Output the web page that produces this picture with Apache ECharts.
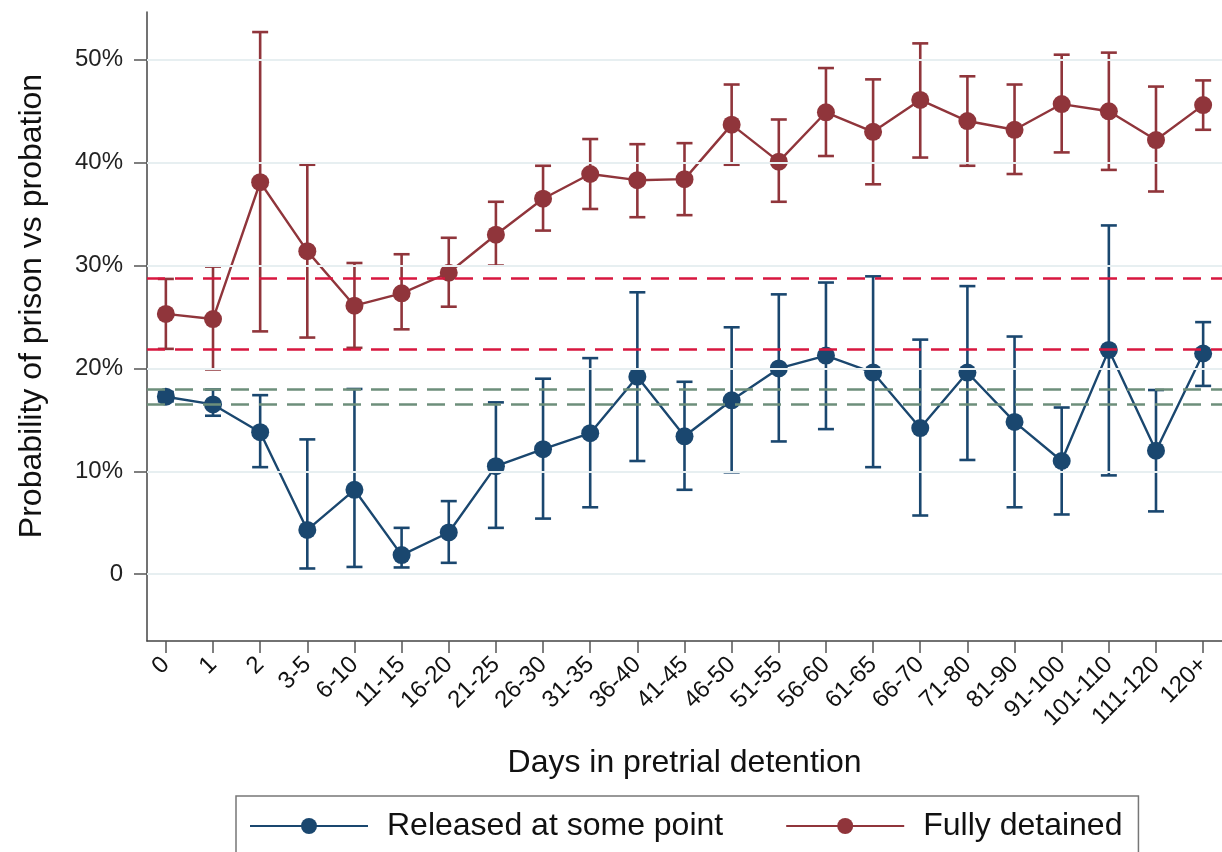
<!DOCTYPE html>
<html>
<head>
<meta charset="utf-8">
<script src="https://cdn.jsdelivr.net/npm/echarts@6/dist/echarts.min.js"></script>
<style>
html,body{margin:0;padding:0;background:#fff;}
#chart{width:1222px;height:852px;}
</style>
</head>
<body>
<div id="chart"></div>
<script>
const categories = ['0','1','2','3-5','6-10','11-15','16-20','21-25','26-30','31-35','36-40','41-45','46-50','51-55','56-60','61-65','66-70','71-80','81-90','91-100','101-110','111-120','120+'];

const releasedValues = [17.25, 16.5, 13.8, 4.3, 8.2, 1.85, 4.05, 10.5, 12.15, 13.7, 19.2, 13.4, 16.9, 20.0, 21.25, 19.6, 14.2, 19.6, 14.8, 11.0, 21.8, 12.0, 21.45];
const releasedLow    = [16.8, 15.4, 10.4, 0.55, 0.7, 0.65, 1.1, 4.5, 5.4, 6.5, 11.0, 8.2, 9.9, 12.9, 14.1, 10.4, 5.7, 11.1, 6.5, 5.8, 9.6, 6.1, 18.3];
const releasedHigh   = [17.7, 17.95, 17.4, 13.1, 18.0, 4.5, 7.1, 16.7, 19.0, 21.0, 27.4, 18.7, 24.0, 27.2, 28.35, 28.95, 22.8, 28.0, 23.1, 16.2, 33.9, 17.9, 24.5];

const detainedValues = [25.3, 24.8, 38.1, 31.4, 26.1, 27.3, 29.3, 33.0, 36.5, 38.9, 38.3, 38.4, 43.7, 40.1, 44.9, 43.0, 46.1, 44.05, 43.2, 45.7, 45.0, 42.2, 45.6];
const detainedLow    = [21.9, 19.9, 23.6, 23.0, 22.0, 23.8, 26.0, 30.0, 33.4, 35.5, 34.7, 34.9, 39.8, 36.2, 40.65, 37.9, 40.5, 39.7, 38.9, 41.0, 39.3, 37.2, 43.2];
const detainedHigh   = [28.7, 29.9, 52.7, 39.8, 30.25, 31.1, 32.7, 36.2, 39.7, 42.3, 41.8, 41.9, 47.6, 44.2, 49.2, 48.1, 51.6, 48.4, 47.6, 50.5, 50.7, 47.4, 48.0];

const yTicks = [0, 10, 20, 30, 40, 50];
const redRefLines = [28.75, 21.87];
const greenRefLines = [18.0, 16.55];

const NAVY = '#1a476f';
const MAROON = '#90353b';
const FONT = 'Liberation Sans, Arial, sans-serif';

const xIdx = categories.map((c, i) => i);

function errorBars(color, low, high) {
  return {
    type: 'custom',
    silent: true,
    z: 3,
    data: xIdx.map(i => [i, low[i], high[i]]),
    encode: { x: 0, y: [1, 2] },
    renderItem: function (params, api) {
      const x = api.value(0);
      const lo = api.coord([x, api.value(1)]);
      const hi = api.coord([x, api.value(2)]);
      const cap = 8;
      const style = { stroke: color, lineWidth: 2.6, fill: null };
      return {
        type: 'group',
        children: [
          { type: 'line', shape: { x1: lo[0], y1: lo[1], x2: hi[0], y2: hi[1] }, style: style },
          { type: 'line', shape: { x1: hi[0] - cap, y1: hi[1], x2: hi[0] + cap, y2: hi[1] }, style: style },
          { type: 'line', shape: { x1: lo[0] - cap, y1: lo[1], x2: lo[0] + cap, y2: lo[1] }, style: style }
        ]
      };
    }
  };
}

const chart = echarts.init(document.getElementById('chart'), null, { renderer: 'canvas' });

chart.setOption({
  animation: false,
  backgroundColor: '#ffffff',
  textStyle: { fontFamily: FONT },
  grid: { left: 147, right: 0, top: 12, bottom: 211, containLabel: false },
  xAxis: {
    type: 'value',
    min: -0.4,
    max: 22.4,
    name: 'Days in pretrial detention',
    nameLocation: 'middle',
    nameGap: 106,
    nameTextStyle: { fontSize: 32, color: '#111', fontFamily: FONT },
    axisLine: { show: true, onZero: false, lineStyle: { color: '#444', width: 1.5 } },
    axisTick: { show: true, length: 12, customValues: xIdx, lineStyle: { color: '#555', width: 1.5 } },
    axisLabel: {
      customValues: xIdx,
      rotate: 45,
      margin: 20,
      fontSize: 24,
      color: '#111',
      fontFamily: FONT,
      formatter: function (v) { return categories[Math.round(v)]; }
    },
    splitLine: { show: false }
  },
  yAxis: {
    type: 'value',
    min: -6.5,
    max: 54.65,
    axisLine: { show: true, onZero: false, lineStyle: { color: '#444', width: 1.5 } },
    axisTick: { show: true, length: 13, customValues: yTicks, lineStyle: { color: '#555', width: 1.5 } },
    axisLabel: {
      customValues: yTicks,
      margin: 24,
      fontSize: 24,
      color: '#222',
      fontFamily: FONT,
      formatter: function (v) { return v === 0 ? '0' : v + '%'; }
    },
    splitLine: { show: false }
  },
  graphic: [{
    type: 'text',
    rotation: Math.PI / 2,
    x: 32, y: 306,
    style: { text: 'Probability of prison vs probation', fontSize: 32, fill: '#111', fontFamily: FONT, align: 'center', verticalAlign: 'middle' }
  }],
  legend: {
    data: ['Released at some point', 'Fully detained'],
    left: 236,
    top: 796,
    orient: 'horizontal',
    padding: [14, 16, 40, 13],
    borderColor: '#777',
    borderWidth: 1.5,
    itemWidth: 118,
    itemHeight: 20,
    itemGap: 62,
    textStyle: { fontSize: 32, color: '#111', fontFamily: FONT, padding: [0, 0, 0, 14] }
  },
  series: [
    {
      name: 'grid',
      type: 'line',
      data: [],
      z: 1,
      silent: true,
      markLine: {
        silent: true,
        symbol: 'none',
        label: { show: false },
        lineStyle: { type: 'solid', color: '#e7eff1', width: 2 },
        data: yTicks.map(v => ({ yAxis: v }))
      }
    },
    {
      name: 'refRed',
      type: 'line',
      data: [],
      z: 2,
      silent: true,
      markLine: {
        silent: true,
        symbol: 'none',
        label: { show: false },
        lineStyle: { type: [18, 10], color: '#d8173f', width: 2.5 },
        data: redRefLines.map(v => ({ yAxis: v }))
      }
    },
    {
      name: 'refGreen',
      type: 'line',
      data: [],
      z: 2,
      silent: true,
      markLine: {
        silent: true,
        symbol: 'none',
        label: { show: false },
        lineStyle: { type: [18, 10], color: '#6d8f7b', width: 2.5 },
        data: greenRefLines.map(v => ({ yAxis: v }))
      }
    },
    errorBars(NAVY, releasedLow, releasedHigh),
    errorBars(MAROON, detainedLow, detainedHigh),
    {
      name: 'Released at some point',
      type: 'line',
      z: 4,
      data: xIdx.map(i => [i, releasedValues[i]]),
      symbol: 'circle',
      symbolSize: 18,
      color: NAVY,
      itemStyle: { color: NAVY },
      lineStyle: { color: NAVY, width: 2.4 }
    },
    {
      name: 'Fully detained',
      type: 'line',
      z: 4,
      data: xIdx.map(i => [i, detainedValues[i]]),
      symbol: 'circle',
      symbolSize: 18,
      color: MAROON,
      itemStyle: { color: MAROON },
      lineStyle: { color: MAROON, width: 2.4 }
    }
  ]
});
</script>
</body>
</html>
